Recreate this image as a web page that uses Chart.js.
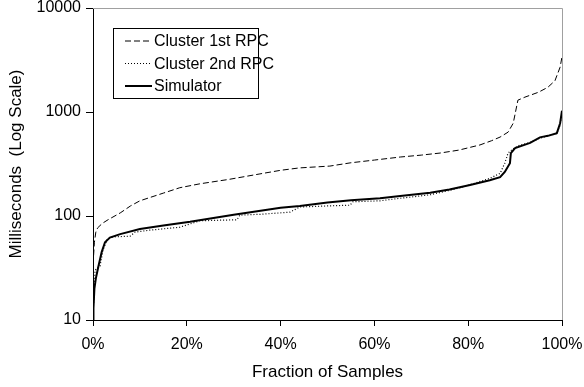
<!DOCTYPE html>
<html>
<head>
<meta charset="utf-8">
<script src="https://cdn.jsdelivr.net/npm/chart.js@4/dist/chart.umd.min.js"></script>
<style>
  html, body { margin: 0; padding: 0; background: #ffffff; }
  #main-chart { display: block; }
</style>
</head>
<body>
<canvas id="main-chart" width="584" height="387"></canvas>
<script>
// Data (x = fraction of samples in %, y = milliseconds)
const seriesNames = ["Cluster 1st RPC", "Cluster 2nd RPC", "Simulator"];

const firstX = [0, 0.1, 0.3, 0.6, 1, 2, 3.2, 5.8, 8, 10, 15, 18.5, 22.8, 29, 35.6, 40, 44, 50.5, 55, 60, 65.5, 70, 74, 78, 82.5, 85, 86.8, 88.5, 89.6, 90.6, 92.1, 95, 97, 98.5, 99.6, 100];
const firstY = [28, 40, 56, 70, 77, 85, 92, 107, 125, 140, 166, 187, 204, 225, 254, 275, 290, 302, 325, 345, 369, 385, 403, 430, 482, 530, 574, 640, 780, 1300, 1390, 1550, 1730, 2000, 2700, 3400];

const secondX = [0, 0.2, 0.43, 1.07, 1.5, 2.13, 2.99, 3.6, 4.3, 7.9, 9, 12, 18.5, 22.8, 30.7, 31.3, 36, 42, 44.1, 50, 54.8, 55.4, 61.2, 65.5, 71.9, 78, 84.6, 86.8, 87.8, 88.5, 89.5, 91, 93.2, 95.3, 97, 98.9, 99.6, 100];
const secondY = [12, 16, 30, 32, 33, 47, 59, 62, 63, 64, 70, 73, 78, 90, 92, 102, 104, 109, 122, 125, 127, 137, 140, 148, 160, 185, 230, 257, 322, 403, 440, 480, 510, 560, 590, 620, 750, 1000];

const simX = [0, 0.1, 0.3, 0.6, 1.1, 1.85, 2.56, 3.6, 5.8, 10, 15, 20.7, 30, 40, 44.1, 50, 55, 61.2, 65.5, 71.9, 76, 80.4, 84.6, 86.8, 87.8, 88.9, 89.1, 90, 93.2, 95.3, 97, 98.9, 99.6, 100];
const simY = [10, 13, 20, 25, 32, 45, 56, 62, 67, 75, 81, 88, 103, 120, 125, 135, 142, 148, 156, 167, 180, 199, 221, 236, 265, 322, 403, 450, 505, 570, 590, 627, 780, 1030];

const xTicks = [0, 20, 40, 60, 80, 100];
const yTicks = [10, 100, 1000, 10000];

const fontFamily = "'Liberation Sans', Arial, sans-serif";

// Zip x and y lists into points
function toPoints(xs, ys) {
  return xs.map((x, i) => ({ x: x, y: ys[i] }));
}

// Dash style for each series
const dashes = [[6, 3], [1, 2], []];
const widths = [1, 1.2, 2];

// Legend box drawn inside the plot, plus gray top/right frame
const innerLegend = {
  id: "innerLegend",
  afterDraw(chart) {
    const ctx = chart.ctx;
    const area = chart.chartArea;

    // Gray frame on top and right
    ctx.save();
    ctx.strokeStyle = "#a0a0a0";
    ctx.lineWidth = 1;
    ctx.beginPath();
    ctx.moveTo(area.left, area.top + 0.5);
    ctx.lineTo(area.right + 0.5, area.top + 0.5);
    ctx.lineTo(area.right + 0.5, area.bottom);
    ctx.stroke();
    ctx.restore();

    // Legend box
    const boxX = area.left + 20;
    const boxY = area.top + 20;
    ctx.save();
    ctx.fillStyle = "#ffffff";
    ctx.fillRect(boxX, boxY, 145, 70);
    ctx.strokeStyle = "#000000";
    ctx.lineWidth = 1;
    ctx.strokeRect(boxX + 0.5, boxY + 0.5, 145, 70);

    ctx.font = "16px " + fontFamily;
    ctx.textBaseline = "middle";
    ctx.fillStyle = "#000000";
    seriesNames.forEach((name, i) => {
      const rowY = boxY + 13 + i * 22.5;
      ctx.beginPath();
      ctx.setLineDash(i === 0 ? [6, 3] : dashes[i]);
      ctx.lineWidth = widths[i];
      ctx.moveTo(boxX + 12, rowY);
      ctx.lineTo(boxX + 39, rowY);
      ctx.stroke();
      ctx.setLineDash([]);
      ctx.fillText(name, boxX + 41, rowY + 1);
    });
    ctx.restore();
  },
};

const mainChart = document.getElementById("main-chart").getContext("2d");

const chart = new Chart(mainChart, {
  type: "line",
  data: {
    datasets: [
      { label: seriesNames[0], data: toPoints(firstX, firstY) },
      { label: seriesNames[1], data: toPoints(secondX, secondY) },
      { label: seriesNames[2], data: toPoints(simX, simY) },
    ].map((ds, i) => ({
      ...ds,
      borderColor: "#000000",
      backgroundColor: "#000000",
      borderWidth: widths[i],
      borderDash: dashes[i],
      pointRadius: 0,
      tension: 0,
      fill: false,
    })),
  },
  options: {
    responsive: false,
    animation: false,
    layout: {
      padding: { top: 8, right: 22, left: 0, bottom: 0 },
    },
    plugins: {
      legend: { display: false },
      tooltip: { enabled: false },
    },
    scales: {
      x: {
        type: "linear",
        min: 0,
        max: 100,
        afterBuildTicks: (scale) => {
          scale.ticks = xTicks.map((v) => ({ value: v }));
        },
        afterFit: (scale) => {
          scale.height = 67;
          scale.paddingLeft = 0;
          scale.paddingRight = 0;
        },
        ticks: {
          color: "#000000",
          font: { family: fontFamily, size: 16 },
          padding: 9,
          maxRotation: 0,
          callback: (value) => value + "%",
        },
        grid: {
          drawOnChartArea: false,
          drawTicks: true,
          tickLength: 6,
          color: "#000000",
        },
        border: { color: "#000000", width: 1 },
        title: {
          display: true,
          text: "Fraction of Samples",
          color: "#000000",
          font: { family: fontFamily, size: 17 },
          padding: { top: 0, bottom: 4 },
        },
      },
      y: {
        type: "logarithmic",
        min: 10,
        max: 10000,
        afterBuildTicks: (scale) => {
          scale.ticks = yTicks.map((v) => ({ value: v }));
        },
        afterFit: (scale) => {
          scale.width = 93;
          scale.paddingTop = 0;
          scale.paddingBottom = 0;
        },
        ticks: {
          color: "#000000",
          font: { family: fontFamily, size: 16, lineHeight: 1 },
          padding: 5,
          callback: (value) => String(value),
        },
        grid: {
          drawOnChartArea: false,
          drawTicks: true,
          tickLength: 7,
          color: "#000000",
        },
        border: { color: "#000000", width: 1 },
        title: {
          display: true,
          text: "Milliseconds  (Log Scale)",
          color: "#000000",
          font: { family: fontFamily, size: 17 },
          padding: { top: 6, bottom: 0 },
        },
      },
    },
  },
  plugins: [innerLegend],
});
</script>
</body>
</html>
